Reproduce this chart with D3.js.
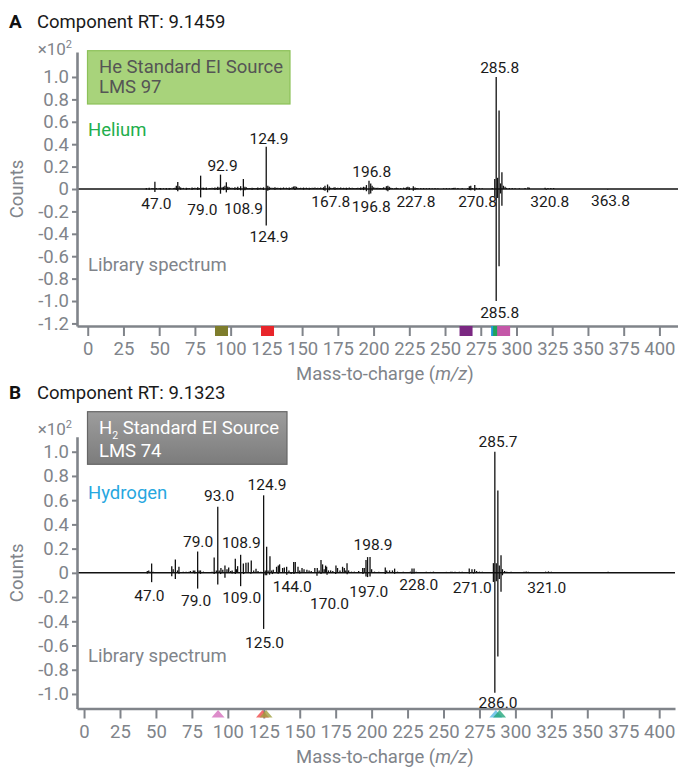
<!DOCTYPE html>
<html><head><meta charset="utf-8">
<script src="https://cdn.jsdelivr.net/npm/d3@7/dist/d3.min.js"></script>
<style>body{margin:0;background:#fff}svg{display:block;font-family:Roboto,"Noto Sans",sans-serif}</style>
</head><body><svg id="c" width="678" height="768"></svg>
<script>
// ---------- data ----------
const xTicks = [0,25,50,75,100,125,150,175,200,225,250,275,300,325,350,375,400];
const yTicksA = [1.0,0.8,0.6,0.4,0.2,0,-0.2,-0.4,-0.6,-0.8,-1.0,-1.2];
const yTicksB = [1.0,0.8,0.6,0.4,0.2,0,-0.2,-0.4,-0.6,-0.8,-1.0];

// Panel A: He source, measured spectrum (up) and library spectrum (down), values x10^2 counts
const heSample = [[41,.008],[43,.012],[45,.01],[46,.005],[47.0,.065],[48,.008],[50,.006],[51,.009],[53,.007],[55,.009],[57,.008],[58,.005],[60,.007],[61,.012],[62,.03],[63,.062],[64,.025],[65,.014],[66,.007],[67,.01],[69,.012],[70,.007],[71,.01],[73,.014],[74,.009],[75,.012],[76,.007],[77,.015],[78,.009],[79.0,.119],[80,.012],[81,.012],[82,.007],[83,.014],[85,.01],[86,.007],[87,.012],[88,.008],[89,.014],[90,.01],[91,.02],[92,.014],[92.9,.128],[94,.015],[95,.02],[96,.03],[97,.06],[98,.02],[99,.015],[100,.01],[101,.012],[102,.008],[103,.015],[104,.01],[105,.02],[106,.01],[107,.025],[108.9,.089],[110,.02],[111,.015],[112,.01],[113,.01],[114,.007],[115,.012],[116,.008],[117,.01],[118,.008],[119,.014],[120,.01],[121,.012],[122,.008],[123,.015],[124.9,.378],[126,.03],[127,.02],[128,.012],[129,.012],[130,.01],[131,.015],[132,.01],[133,.012],[134,.009],[135,.012],[136,.01],[137,.014],[138,.01],[139,.012],[140,.009],[141,.013],[142,.01],[143,.015],[144,.022],[145,.025],[146,.02],[147,.012],[148,.01],[149,.012],[150,.009],[151,.013],[152,.01],[153,.012],[154,.008],[155,.011],[156,.009],[157,.012],[158,.01],[159,.014],[160,.009],[161,.012],[162,.01],[163,.013],[164,.01],[165,.016],[166,.03],[167.8,.04],[169,.022],[170,.012],[171,.01],[172,.012],[173,.015],[174,.009],[175,.012],[176,.01],[177,.014],[178,.009],[179,.011],[180,.01],[181,.012],[182,.008],[183,.014],[184,.01],[185,.012],[186,.008],[187,.01],[188,.009],[189,.012],[190,.01],[191,.014],[192,.012],[193,.02],[194,.015],[195,.035],[196.8,.074],[198,.05],[199,.03],[200,.015],[201,.012],[202,.01],[203,.012],[204,.008],[205,.01],[206,.008],[207,.015],[208,.012],[209,.025],[210,.03],[211,.02],[212,.012],[213,.01],[215,.009],[216,.012],[217,.01],[219,.008],[221,.012],[222,.009],[223,.015],[224,.02],[225,.016],[227.8,.025],[229,.014],[230,.009],[231,.01],[233,.008],[235,.009],[237,.007],[239,.008],[241,.006],[243,.008],[245,.006],[249,.006],[251,.008],[253,.006],[255,.008],[256,.01],[257,.012],[259,.008],[262,.006],[266,.008],[267,.025],[268,.03],[269,.01],[270.8,.035],[272,.01],[274,.008],[276,.006],[283,.01],[284.8,.09],[285.8,1.0],[286.8,.1],[287.8,.7],[288.8,.05],[289.8,.15],[290.8,.03],[292,.02],[293,.01],[295,.008],[297,.01],[299,.006],[302,.006],[306,.008],[308,.015],[309,.012],[320,.012],[322,.01],[324,.01],[326,.008]];
const heLibrary = [[41,.004],[43,.006],[47.0,.027],[51,.005],[55,.005],[57,.004],[62,.01],[63,.02],[65,.006],[69,.006],[73,.006],[77,.008],[79.0,.075],[81,.006],[83,.006],[89,.006],[91,.01],[92.9,.042],[95,.01],[97,.03],[98,.01],[103,.006],[105,.01],[107,.012],[108.9,.066],[110,.012],[115,.006],[119,.006],[123,.008],[124.9,.325],[126,.015],[127,.01],[131,.006],[135,.005],[141,.006],[145,.01],[151,.005],[155,.005],[165,.01],[166,.015],[167.8,.03],[169,.012],[173,.006],[181,.005],[191,.006],[193,.01],[195,.02],[196.8,.047],[198,.04],[199,.015],[209,.012],[210,.02],[211,.01],[223,.006],[225,.01],[227.8,.015],[229,.006],[267,.01],[268,.012],[270.8,.015],[284.8,.07],[285.8,1.0],[286.8,.08],[287.8,.69],[288.8,.04],[289.8,.15],[320.8,.006],[363.8,.004]];
// labels: text, m/z of label centre, label baseline (x10^2 counts)
const heLabels = [["285.8",288.2,1.033],["124.9",126.9,0.402],["92.9",94.3,0.163],["196.8",198.7,0.11],["47.0",48,-0.181],["79.0",80.2,-0.232],["108.9",109,-0.223],["124.9",126.9,-0.476],["167.8",170.1,-0.163],["196.8",198.4,-0.203],["227.8",229.6,-0.158],["270.8",272.8,-0.163],["320.8",323.3,-0.158],["363.8",365.7,-0.149],["285.8",288.2,-1.155]];
const heMarkers = [[93.6,"#7e7d2c"],[125.8,"#e8252a"],[264.7,"#7b2882"],[286.8,"#1b9bd7"],[288.2,"#1fa35b"],[291,"#c457a8"]];

// Panel B: H2 source
const h2Sample = [[33,.005],[36,.005],[39,.004],[44,.015],[45,.02],[46,.01],[47.0,.077],[48,.01],[50,.005],[59,.004],[61,.055],[62,.03],[63.5,.11],[65,.02],[66,.05],[69,.01],[71,.01],[73,.01],[74,.015],[76,.02],[77,.02],[79.0,.176],[80,.02],[81,.02],[83,.01],[86,.006],[89,.01],[90.5,.127],[92,.02],[93.0,.545],[94,.02],[95.2,.04],[96.5,.025],[98,.06],[99.4,.03],[100.6,.045],[102,.015],[103,.02],[105.2,.116],[106,.03],[106.8,.055],[108.9,.149],[110.8,.077],[112.6,.083],[114.2,.085],[116.3,.102],[118,.02],[119.6,.033],[121,.015],[123,.01],[124.9,.64],[126,.02],[127,.215],[128,.02],[129.3,.138],[130.5,.02],[131.6,.025],[133.9,.05],[135.1,.06],[136,.07],[138.1,.04],[139.3,.045],[140.9,.05],[142.5,.02],[145.8,.09],[146.9,.09],[148.8,.05],[150,.02],[151.6,.04],[153,.03],[155,.025],[156.5,.02],[158,.015],[160.5,.04],[162.2,.04],[163.5,.02],[164.8,.105],[165.9,.07],[167,.03],[168,.06],[168.7,.05],[170,.02],[171.5,.02],[173,.015],[175.2,.06],[176.3,.04],[178,.02],[179.8,.05],[181,.04],[182,.02],[182.9,.08],[184,.02],[186,.01],[188,.01],[191,.015],[193.8,.04],[194.9,.04],[196.1,.105],[197.2,.13],[198.9,.13],[200,.03],[202,.01],[205,.01],[209.5,.045],[210.5,.02],[212.5,.02],[214.5,.02],[216,.035],[218,.01],[222,.01],[227,.01],[228.1,.035],[229.5,.035],[231,.01],[238,.01],[241,.008],[243,.01],[252,.008],[255,.01],[256,.008],[258,.008],[261,.01],[263,.008],[267.9,.035],[269.8,.03],[271.6,.03],[273,.015],[275,.01],[277,.01],[284.7,.08],[285.7,1.0],[286.7,.08],[287.8,.68],[288.8,.06],[290,.146],[291,.03],[292.5,.015],[294,.01],[297,.008],[306,.01],[307.5,.012],[309,.008],[321,.01],[323,.012],[325,.01],[328,.006],[335,.006],[345,.005],[352,.004],[364.5,.008],[381.5,.005],[393.5,.005]];
const h2Library = [[44,.005],[47.0,.077],[61,.028],[63.5,.05],[66,.008],[77,.006],[79.0,.13],[81,.008],[90.5,.01],[93.0,.096],[95,.01],[98,.041],[103,.006],[105.2,.01],[108.9,.11],[111,.01],[116,.008],[124.9,.463],[126,.02],[127,.02],[129,.015],[131,.01],[135,.008],[141,.015],[144,.01],[146,.01],[150,.006],[162,.025],[164.8,.01],[169,.015],[175,.01],[183,.012],[194,.01],[196.1,.03],[197.2,.035],[198.9,.03],[209.5,.01],[216,.008],[228,.008],[229.5,.006],[268,.006],[271,.006],[284.7,.075],[285.7,.99],[286.7,.07],[287.8,.69],[288.8,.05],[290,.157],[291,.02]];
const h2Labels = [["285.7",287.9,1.041],["124.9",127.3,0.683],["93.0",93.9,0.593],["79.0",79.3,0.215],["108.9",109.4,0.202],["198.9",201,0.188],["47.0",45.5,-0.231],["79.0",77.9,-0.275],["109.0",109.6,-0.253],["144.0",144.8,-0.157],["170.0",170.7,-0.3],["125.0",125.5,-0.617],["197.0",198,-0.201],["228.0",232.8,-0.143],["271.0",270,-0.165],["321.0",321.8,-0.165],["286.0",287.9,-1.112]];
const h2Markers = [[93.2,"#d56fbd"],[124.1,"#ef4b4b"],[126.6,"#a0a040"],[286.4,"#5ab9e6"],[289,"#24a67a"]];

// ---------- drawing ----------
const GREY = "#80848a";
const svg = d3.select("#c");
const fmtY = d => d === 0 ? "0" : (d < 0 ? "-" : "") + Math.abs(d).toFixed(1);

function panel(cfg) {
  const g = svg.append("g");
  const x = d3.scaleLinear().domain(cfg.xDomain).range(cfg.xRange);
  const y = d3.scaleLinear().domain(cfg.yDomain).range(cfg.yRange);
  const y0 = y(0);

  // header
  g.append("text").attr("x", 9).attr("y", cfg.headY).attr("font-size", 19).attr("font-weight", 700).attr("fill", "#111").text(cfg.letter);
  g.append("text").attr("x", 37).attr("y", cfg.headY).attr("font-size", 18.5).attr("fill", "#1a1a1a").text("Component RT: " + cfg.rt);

  // peaks
  g.append("g").selectAll("line").data(cfg.sample).join("line")
    .attr("x1", d => x(d[0])).attr("x2", d => x(d[0]))
    .attr("y1", y0).attr("y2", d => y(d[1]))
    .attr("stroke", "#111").attr("stroke-width", 1.3);
  g.append("g").selectAll("line").data(cfg.library).join("line")
    .attr("x1", d => x(d[0])).attr("x2", d => x(d[0]))
    .attr("y1", y0).attr("y2", d => y(-d[1]))
    .attr("stroke", "#111").attr("stroke-width", 1.3);
  g.append("line").attr("x1", cfg.xRange[0]).attr("x2", cfg.xRange[1]).attr("y1", y0).attr("y2", y0)
    .attr("stroke", "#111").attr("stroke-width", 1.5);

  // axes
  const xa = g.append("g").attr("transform", `translate(0,${cfg.yRange[0]})`)
    .call(d3.axisBottom(x).tickValues(xTicks).tickSize(10).tickSizeOuter(0).tickPadding(cfg.xPad));
  const ya = g.append("g").attr("transform", `translate(${cfg.xRange[0]},0)`)
    .call(d3.axisLeft(y).tickValues(cfg.yTicks).tickSize(5).tickSizeOuter(0).tickPadding(3).tickFormat(fmtY));
  [xa, ya].forEach(a => {
    a.select(".domain").attr("stroke", GREY).attr("stroke-width", 2.6);
    a.selectAll(".tick line").attr("stroke", GREY).attr("stroke-width", 2);
    a.selectAll(".tick text").attr("fill", GREY).attr("font-size", 18.5).attr("font-family", "Roboto");
  });

  // markers on the x axis
  if (cfg.markerType === "square") {
    g.append("g").selectAll("rect").data(cfg.markers).join("rect")
      .attr("x", d => x(d[0]) - 6.5).attr("y", cfg.yRange[0]).attr("width", 13).attr("height", 10)
      .attr("fill", d => d[1]);
  } else {
    g.append("g").selectAll("path").data(cfg.markers).join("path")
      .attr("d", d => { const cx = x(d[0]), t = cfg.yRange[0] + 1.5; return `M${cx - 6.5},${t + 7.5}L${cx},${t}L${cx + 6.5},${t + 7.5}Z`; })
      .attr("fill", d => d[1]).attr("fill-opacity", 0.8);
  }

  // peak labels
  g.append("g").selectAll("text").data(cfg.labels).join("text")
    .attr("x", d => x(d[1])).attr("y", d => y(d[2]))
    .attr("text-anchor", "middle").attr("font-size", 15.5).attr("fill", "#1a1a1a").text(d => d[0]);

  // x10^2
  const sc = g.append("text").attr("x", 72).attr("y", cfg.expY).attr("text-anchor", "end").attr("font-size", 17).attr("fill", GREY);
  sc.append("tspan").text("×10");
  sc.append("tspan").attr("font-size", 11).attr("dy", -7).text("2");

  // source box
  const b = cfg.box;
  if (cfg.boxGrad) {
    const defs = svg.append("defs");
    const lg = defs.append("linearGradient").attr("id", "gb").attr("x1", 0).attr("y1", 0).attr("x2", 0).attr("y2", 1);
    lg.append("stop").attr("offset", 0).attr("stop-color", "#9d9d9d");
    lg.append("stop").attr("offset", 1).attr("stop-color", "#7c7c7c");
  }
  g.append("rect").attr("x", b.x).attr("y", b.y).attr("width", b.w).attr("height", b.h)
    .attr("fill", cfg.boxGrad ? "url(#gb)" : b.fill).attr("stroke", b.stroke).attr("stroke-width", 1.2);
  const t1 = g.append("text").attr("x", b.x + 11.5).attr("y", b.l1).attr("font-size", 18.5).attr("fill", b.tc);
  if (cfg.sub) {
    t1.append("tspan").text("H");
    t1.append("tspan").attr("font-size", 10.5).attr("dy", 4.5).text("2");
    t1.append("tspan").attr("dy", -4.5).text(" Standard EI Source");
  } else {
    t1.text(cfg.boxLine1);
  }
  g.append("text").attr("x", b.x + 11.5).attr("y", b.l2).attr("font-size", 18.5).attr("fill", b.tc).text(cfg.boxLine2);

  g.append("text").attr("x", 88).attr("y", cfg.gasY).attr("font-size", 18.5).attr("fill", cfg.gasColor).text(cfg.gas);
  g.append("text").attr("x", 88).attr("y", cfg.libY).attr("font-size", 18.5).attr("fill", GREY).text("Library spectrum");

  // axis titles
  g.append("text").attr("transform", `translate(22.5,${y0}) rotate(-90)`).attr("text-anchor", "middle")
    .attr("font-size", 18.5).attr("fill", GREY).text("Counts");
  const xt = g.append("text").attr("x", 296).attr("y", cfg.xTitleY).attr("font-size", 18.5).attr("fill", GREY);
  xt.append("tspan").text("Mass-to-charge (");
  xt.append("tspan").attr("font-style", "italic").text("m/z");
  xt.append("tspan").text(")");
}

panel({
  letter: "A", rt: "9.1459", headY: 28,
  xDomain: [-7.5, 413], xRange: [77, 678],
  yDomain: [-1.223, 1.223], yRange: [326, 52], yTicks: yTicksA, xPad: 5.5,
  sample: heSample, library: heLibrary, labels: heLabels, markers: heMarkers, markerType: "square",
  expY: 55,
  box: {x: 87.5, y: 50.7, w: 202.5, h: 53.3, fill: "#a8d37b", stroke: "#8cc159", tc: "#555", l1: 73, l2: 93.3},
  boxLine1: "He Standard EI Source", boxLine2: "LMS 97",
  gas: "Helium", gasColor: "#22ae4c", gasY: 135.7, libY: 270.7, xTitleY: 380
});
panel({
  letter: "B", rt: "9.1323", headY: 399.3,
  xDomain: [-4.9, 411], xRange: [77, 675],
  yDomain: [-1.12, 1.124], yRange: [708.5, 436.7], yTicks: yTicksB, xPad: 6.5,
  sample: h2Sample, library: h2Library, labels: h2Labels, markers: h2Markers, markerType: "triangle",
  expY: 435,
  box: {x: 87.5, y: 411.7, w: 199.5, h: 52.6, stroke: "#666", tc: "#fff", l1: 434, l2: 457.3},
  boxGrad: true, sub: true, boxLine2: "LMS 74",
  gas: "Hydrogen", gasColor: "#27a7df", gasY: 499, libY: 661.7, xTitleY: 763
});
</script>
</body></html>
